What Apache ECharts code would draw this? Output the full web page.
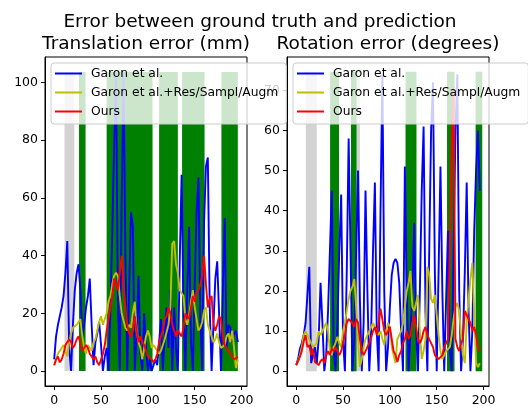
<!DOCTYPE html>
<html>
<head>
<meta charset="utf-8">
<script src="https://cdn.jsdelivr.net/npm/echarts@6/dist/echarts.min.js"></script>
<style>
  html, body { margin: 0; padding: 0; background: #fff; }
  #chart { width: 528px; height: 409px; }
</style>
</head>
<body>
<div id="chart"></div>
<script>
// frame index (every 2nd frame)
const frames = [
  0, 2, 4, 6, 8, 10, 12, 14, 16, 18,
  20, 22, 24, 26, 28, 30, 32, 34, 36, 38,
  40, 42, 44, 46, 48, 50, 52, 54, 56, 58,
  60, 62, 64, 66, 68, 70, 72, 74, 76, 78,
  80, 82, 84, 86, 88, 90, 92, 94, 96, 98,
  100, 102, 104, 106, 108, 110, 112, 114, 116, 118,
  120, 122, 124, 126, 128, 130, 132, 134, 136, 138,
  140, 142, 144, 146, 148, 150, 152, 154, 156, 158,
  160, 162, 164, 166, 168, 170, 172, 174, 176, 178,
  180, 182, 184, 186, 188, 190, 192, 194, 196
]

const seriesNames = ['Garon et al.', 'Garon et al.+Res/Sampl/Augm', 'Ours']

// translation error (mm)
const transGaron = [
  4, 12, 16, 19, 22, 26, 34, 45, 8, 0,
  16, 28, 34, 37, 28, 12, 16, 22, 26, 32,
  16, 2, 10, 13, 17, 9, 0, 5, 8, 0,
  22, 48, 78, 103, 24, 0, 58, 103, 40, 0,
  28, 55, 50, 0, 12, 33, 6, 0, 20, 8,
  0, 4, 0, 0, 4, 2, 10, 18, 0, 12,
  22, 8, 28, 0, 22, 8, 0, 38, 68, 22,
  0, 28, 50, 10, 0, 30, 55, 67, 18, 0,
  52, 71, 74, 22, 0, 16, 32, 38, 20, 0,
  28, 53, 8, 16, 15, 10, 13, 14, 10
]
const transGaronAug = [
  2, 4, 6, 7, 8, 9, 7, 5, 10, 13,
  15, 15, 16, 17, 18, 12, 8, 6, 9, 8,
  7, 10, 11, 14, 17, 19, 16, 18, 20, 24,
  26, 30, 33, 34, 33, 26, 20, 20, 15, 14,
  16, 15, 20, 24, 14, 10, 8, 4, 8, 12,
  14, 12, 8, 9, 8, 7, 6, 7, 9, 11,
  11, 16, 22, 44, 45, 37, 34, 28, 27, 26,
  18, 16, 19, 24, 28, 22, 18, 14, 15, 17,
  21, 22, 16, 14, 12, 10, 11, 13, 10, 8,
  8, 9, 12, 13, 10, 14, 8, 1, 4
]
const transOurs = [
  2, 4, 5, 3, 4, 6, 9, 10, 11, 10,
  8, 9, 11, 12, 12, 7, 7, 9, 8, 6,
  5, 4, 5, 3, 2, 2, 6, 9, 14, 18,
  22, 26, 32, 30, 28, 34, 40, 30, 22, 16,
  13, 12, 14, 19, 14, 10, 12, 10, 9, 7,
  5, 5, 4, 3, 4, 6, 10, 12, 14, 18,
  19, 22, 20, 16, 14, 12, 14, 13, 12, 15,
  20, 19, 18, 22, 26, 24, 27, 28, 30, 33,
  40, 30, 22, 25, 26, 16, 14, 16, 19, 18,
  12, 9, 8, 7, 6, 5, 4, 4, 5
]

// rotation error (degrees)
const rotGaron = [
  1.5, 3, 5.6, 7, 9, 12, 19, 26, 2, 4,
  6, 2, 8, 22, 12, 0, 4, 15, 30, 45,
  5, 0, 12, 30, 44, 8, 0, 25, 58, 30,
  0, 8, 30, 50, 18, 0, 12, 45, 20, 0,
  10, 30, 47, 10, 0, 40, 74, 20, 0, 6,
  16, 24, 27, 28, 27, 22, 10, 0, 51, 20,
  0, 10, 20, 37, 10, 0, 20, 45, 61, 15,
  0, 30, 60, 72, 25, 0, 25, 51, 20, 0,
  0, 35, 5, 0, 30, 60, 74, 20, 0, 8,
  25, 47, 15, 0, 10, 35, 50, 60, 45
]
const rotGaronAug = [
  1.5, 2.5, 4, 6, 9, 10, 9, 8, 7, 6,
  6, 7, 10, 9, 10, 11, 12, 10, 5, 4,
  6, 7, 8.6, 7, 6, 10, 12, 15, 18, 20,
  21, 23, 16, 8, 1, 3, 6, 8, 9, 10,
  11, 12, 12, 10, 9, 10, 8, 6.5, 10, 12,
  11, 6, 4, 2, 8, 9, 10, 12, 16, 20,
  22, 25, 16, 15, 17, 19, 10, 3, 5, 8,
  26, 24, 18, 17, 19, 14, 9, 5, 3, 4,
  5, 5, 6, 9, 13, 16, 17, 15, 9, 4,
  2, 12, 18, 23, 27, 27, 2, 1, 2
]
const rotOurs = [
  1.5, 2.5, 3.6, 5, 7.3, 9, 6, 6.5, 4, 5.6,
  2.3, 2, 1.5, 2.5, 3, 2, 4, 5, 4, 5.6,
  5, 6, 5.6, 4, 5, 7, 9, 12, 13, 13,
  12, 11, 13, 12, 8, 5, 4, 5, 6, 7,
  8.3, 10, 11, 9, 12, 15.6, 13, 10, 9, 10,
  11, 8, 5, 4, 2.3, 4, 5, 7, 8, 10,
  8, 9, 12, 14, 11, 8, 7, 8, 10, 11,
  9, 8, 7, 6, 4, 4, 3, 3, 4, 6,
  7, 8, 30, 55, 71, 8, 6, 5, 7, 8,
  15, 15, 13, 12, 10, 11, 9, 6, 5
]

// shaded frame ranges [start, end]
const transGreenBands = [[26.5, 33.5], [56, 105], [112, 132], [136.5, 160.5], [178.5, 196]]
const transGrayBands = [[11, 21.5]]
const rotGreenBands = [[36.2, 45.7], [58.5, 64.5], [116.7, 128.4], [161, 169], [191.5, 198.6]]
const rotGrayBands = [[10.3, 22], [64.5, 68]]
const transBandTop = 103.6
const rotBandTop = 74.6

const transTicks = [0, 20, 40, 60, 80, 100]
const rotTicks = [0, 10, 20, 30, 40, 50, 60, 70]
const frameTicks = [0, 50, 100, 150, 200]

const colors = ['#0000ff', '#bfbf00', '#ff0000']
const font = 'DejaVu Sans'

const pairs = vals => frames.map((f, i) => [f, vals[i]])

const bandItem = (params, api) => {
  const p1 = api.coord([api.value(0), api.value(2)])
  const p2 = api.coord([api.value(1), 0])
  return {
    type: 'rect',
    shape: { x: p1[0], y: p1[1], width: p2[0] - p1[0], height: p2[1] - p1[1] },
    style: { fill: api.visual('color') },
  }
}

const bandSeries = (bands, top, color, idx) => ({
  type: 'custom',
  xAxisIndex: idx,
  yAxisIndex: idx,
  z: 1,
  silent: true,
  itemStyle: { color },
  encode: { x: [0, 1], y: 2 },
  renderItem: bandItem,
  data: bands.map(b => [b[0], b[1], top]),
})

const lineSeries = (name, vals, idx, c) => ({
  name,
  type: 'line',
  xAxisIndex: idx,
  yAxisIndex: idx,
  symbol: 'none',
  z: 3,
  color: c,
  lineStyle: { width: 1.9, color: c },
  data: pairs(vals),
})

const xAxisOf = idx => ({
  gridIndex: idx,
  type: 'value',
  min: -9.8,
  max: 205.8,
  axisLine: { onZero: false, lineStyle: { color: '#000', width: 1 } },
  axisTick: { customValues: frameTicks, length: 4, lineStyle: { color: '#000' } },
  axisLabel: { customValues: frameTicks, color: '#000', fontSize: 12.5, fontFamily: font, margin: 8 },
  splitLine: { show: false },
})

const yAxisOf = (idx, min, max, ticks) => ({
  gridIndex: idx,
  type: 'value',
  min,
  max,
  axisLine: { show: true, onZero: false, lineStyle: { color: '#000', width: 1 } },
  axisTick: { show: true, customValues: ticks, length: 4, lineStyle: { color: '#000' } },
  axisLabel: { customValues: ticks, color: '#000', fontSize: 12.5, fontFamily: font, margin: 7 },
  splitLine: { show: false },
})

const legendOf = left => ({
  left,
  top: 63,
  orient: 'vertical',
  data: seriesNames,
  icon: 'rect',
  itemWidth: 27,
  itemHeight: 2,
  itemGap: 4,
  padding: [3, 8, 5, 4],
  backgroundColor: 'rgba(255,255,255,0.8)',
  borderColor: '#cccccc',
  borderWidth: 1,
  borderRadius: 3,
  selectedMode: false,
  z: 10,
  textStyle: { color: '#000', fontSize: 12.3, fontFamily: font, lineHeight: 15, padding: [0, 0, 0, 4] },
})

const titleStyle = { fontSize: 18.5, fontWeight: 'normal', color: '#000', fontFamily: font }

const chart = echarts.init(document.getElementById('chart'))
chart.setOption({
  animation: false,
  backgroundColor: '#fff',
  title: [
    { text: 'Error between ground truth and prediction', left: 255, top: 8, textAlign: 'center', textStyle: titleStyle },
    { text: 'Translation error (mm)', left: 141, top: 30, textAlign: 'center', textStyle: titleStyle },
    { text: 'Rotation error (degrees)', left: 383, top: 30, textAlign: 'center', textStyle: titleStyle },
  ],
  legend: [legendOf(51), legendOf(293)],
  grid: [
    { left: 45, top: 57, width: 202, height: 329, show: true, borderColor: '#000', borderWidth: 1, backgroundColor: '#fff' },
    { left: 287, top: 57, width: 202, height: 329, show: true, borderColor: '#000', borderWidth: 1, backgroundColor: '#fff' },
  ],
  xAxis: [xAxisOf(0), xAxisOf(1)],
  yAxis: [yAxisOf(0, -5.2, 108.8, transTicks), yAxisOf(1, -3.7, 78.3, rotTicks)],
  series: [
    bandSeries(transGrayBands, transBandTop, '#d3d3d3', 0),
    bandSeries(transGreenBands, transBandTop, '#008000', 0),
    bandSeries(rotGrayBands, rotBandTop, '#d3d3d3', 1),
    bandSeries(rotGreenBands, rotBandTop, '#008000', 1),
    lineSeries(seriesNames[0], transGaron, 0, colors[0]),
    lineSeries(seriesNames[1], transGaronAug, 0, colors[1]),
    lineSeries(seriesNames[2], transOurs, 0, colors[2]),
    lineSeries(seriesNames[0], rotGaron, 1, colors[0]),
    lineSeries(seriesNames[1], rotGaronAug, 1, colors[1]),
    lineSeries(seriesNames[2], rotOurs, 1, colors[2]),
  ],
})
</script>
</body>
</html>
